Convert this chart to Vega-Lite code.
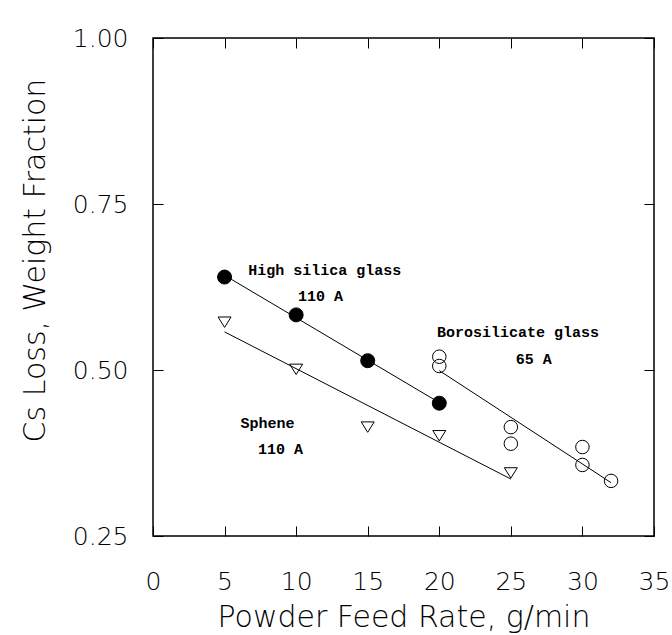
{
  "$schema": "https://vega.github.io/schema/vega-lite/v6.json",
  "width": 501,
  "height": 498,
  "autosize": {"type": "none"},
  "padding": {"left": 153, "top": 38, "right": 18, "bottom": 99},
  "background": "white",
  "config": {
    "view": {"stroke": "black", "strokeWidth": 1.5},
    "axis": {
      "grid": false,
      "domain": false,
      "tickColor": "black",
      "tickSize": 10,
      "tickWidth": 1,
      "offset": -10,
      "labelColor": "black",
      "titleColor": "black",
      "labelFont": "DejaVu Sans",
      "titleFont": "DejaVu Sans",
      "labelFontWeight": 200,
      "titleFontWeight": 200,
      "labelFontSize": 25,
      "titleFontSize": 30,
      "labelFlush": false,
      "labelOverlap": false
    }
  },
  "datasets": {
    "points": [
      {"series": "High silica glass", "rate": 5, "loss": 0.640},
      {"series": "High silica glass", "rate": 10, "loss": 0.583},
      {"series": "High silica glass", "rate": 15, "loss": 0.514},
      {"series": "High silica glass", "rate": 20, "loss": 0.450},
      {"series": "Sphene", "rate": 5, "loss": 0.572},
      {"series": "Sphene", "rate": 10, "loss": 0.501},
      {"series": "Sphene", "rate": 15, "loss": 0.414},
      {"series": "Sphene", "rate": 20, "loss": 0.401},
      {"series": "Sphene", "rate": 25, "loss": 0.345},
      {"series": "Borosilicate glass", "rate": 20, "loss": 0.520},
      {"series": "Borosilicate glass", "rate": 20, "loss": 0.506},
      {"series": "Borosilicate glass", "rate": 25, "loss": 0.414},
      {"series": "Borosilicate glass", "rate": 25, "loss": 0.389},
      {"series": "Borosilicate glass", "rate": 30, "loss": 0.384},
      {"series": "Borosilicate glass", "rate": 30, "loss": 0.357},
      {"series": "Borosilicate glass", "rate": 32, "loss": 0.333}
    ],
    "labels": [
      {"tx": 12.0, "ty": 0.651, "label": "High silica glass"},
      {"tx": 11.7, "ty": 0.611, "label": "110 A"},
      {"tx": 25.5, "ty": 0.557, "label": "Borosilicate glass"},
      {"tx": 26.6, "ty": 0.517, "label": "65 A"},
      {"tx": 8.0, "ty": 0.420, "label": "Sphene"},
      {"tx": 8.9, "ty": 0.381, "label": "110 A"}
    ]
  },
  "layer": [
    {
      "data": {"name": "points"},
      "transform": [{"regression": "loss", "on": "rate", "groupby": ["series"]}],
      "mark": {"type": "line", "color": "black", "strokeWidth": 1},
      "encoding": {
        "x": {"field": "rate", "type": "quantitative", "scale": {"domain": [0, 35], "nice": false},
              "axis": {"orient": "top", "labels": false, "title": null, "values": [0, 5, 10, 15, 20, 25, 30, 35]}},
        "y": {"field": "loss", "type": "quantitative", "scale": {"domain": [0.25, 1.0], "nice": false, "zero": false},
              "axis": {"orient": "right", "labels": false, "title": null, "values": [0.25, 0.5, 0.75, 1.0]}},
        "detail": {"field": "series"}
      }
    },
    {
      "data": {"name": "points"},
      "mark": {"type": "point", "filled": true, "stroke": "black", "strokeWidth": 1, "opacity": 1},
      "encoding": {
        "x": {"field": "rate", "type": "quantitative",
              "axis": {"orient": "bottom", "title": "Powder Feed Rate, g/min", "values": [0, 5, 10, 15, 20, 25, 30, 35], "labelPadding": 33, "titlePadding": 8}},
        "y": {"field": "loss", "type": "quantitative",
              "axis": {"orient": "left", "title": "Cs Loss, Weight Fraction", "values": [0.25, 0.5, 0.75, 1.0], "format": ".2f", "labelPadding": 25, "titlePadding": 22, "titleY": 222}},
        "shape": {"field": "series", "type": "nominal", "legend": null,
                  "scale": {"domain": ["High silica glass", "Borosilicate glass", "Sphene"], "range": ["circle", "circle", "M-1,-0.8L1,-0.8L0,0.8Z"]}},
        "fill": {"field": "series", "type": "nominal", "legend": null,
                 "scale": {"domain": ["High silica glass", "Borosilicate glass", "Sphene"], "range": ["black", "transparent", "transparent"]}},
        "size": {"field": "series", "type": "nominal", "legend": null,
                 "scale": {"domain": ["High silica glass", "Borosilicate glass", "Sphene"], "range": [196, 169, 180]}}
      }
    },
    {
      "data": {"name": "labels"},
      "mark": {"type": "text", "font": "Liberation Mono", "fontWeight": "bold", "fontSize": 15, "color": "black", "baseline": "middle", "align": "center"},
      "encoding": {
        "x": {"field": "tx", "type": "quantitative", "axis": null},
        "y": {"field": "ty", "type": "quantitative", "axis": null},
        "text": {"field": "label"}
      }
    }
  ],
  "resolve": {"axis": {"x": "independent", "y": "independent"}}
}
